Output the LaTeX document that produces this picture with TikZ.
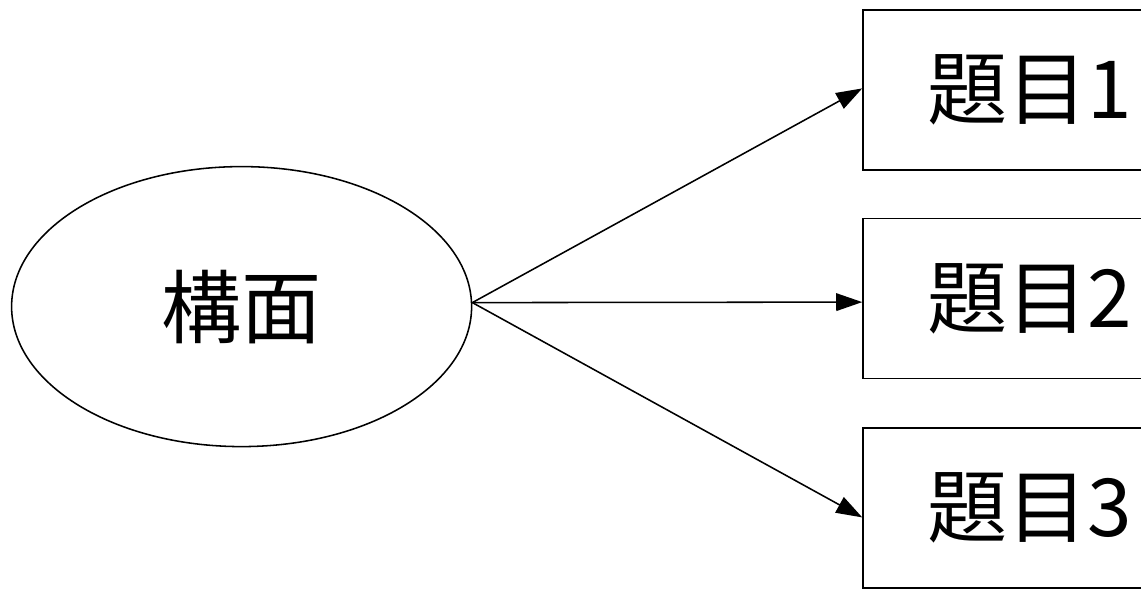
\documentclass[tikz,border=0pt]{standalone}
\usepackage{fontspec}
\setmainfont{Noto Sans CJK TC}
\usepackage{tikz}
\usetikzlibrary{shapes.geometric,arrows.meta,positioning}

\begin{document}
\begin{tikzpicture}[
construct/.style={draw, ellipse, line width=1.1pt, minimum width=11.5cm, minimum height=7.0cm,
inner sep=0pt, font=\fontsize{57}{60}\selectfont},
item/.style={draw, rectangle, line width=1.1pt, minimum width=8.35cm, minimum height=4.0cm,
inner sep=0pt, font=\fontsize{57}{60}\selectfont},
arrow/.style={-{Triangle[length=6.5mm,width=4.4mm]}, line width=1.1pt}
]
\clip (0,0) rectangle (28.525,14.975);

\node[construct] (cons) at (6.04,7.31) {構面};

\node[item] (q1) at (25.75,12.725) {題目1};
\node[item] (q2) at (25.75,7.5125) {題目2};
\node[item] (q3) at (25.75,2.28)   {題目3};

\draw[arrow] ([yshift=0.1cm]cons.east) -- ([yshift=0.04cm]q1.west);
\draw[arrow] ([yshift=0.1cm]cons.east) -- ([yshift=-0.09cm]q2.west);
\draw[arrow] ([yshift=0.1cm]cons.east) -- ([yshift=-0.24cm]q3.west);

\end{tikzpicture}
\end{document}
